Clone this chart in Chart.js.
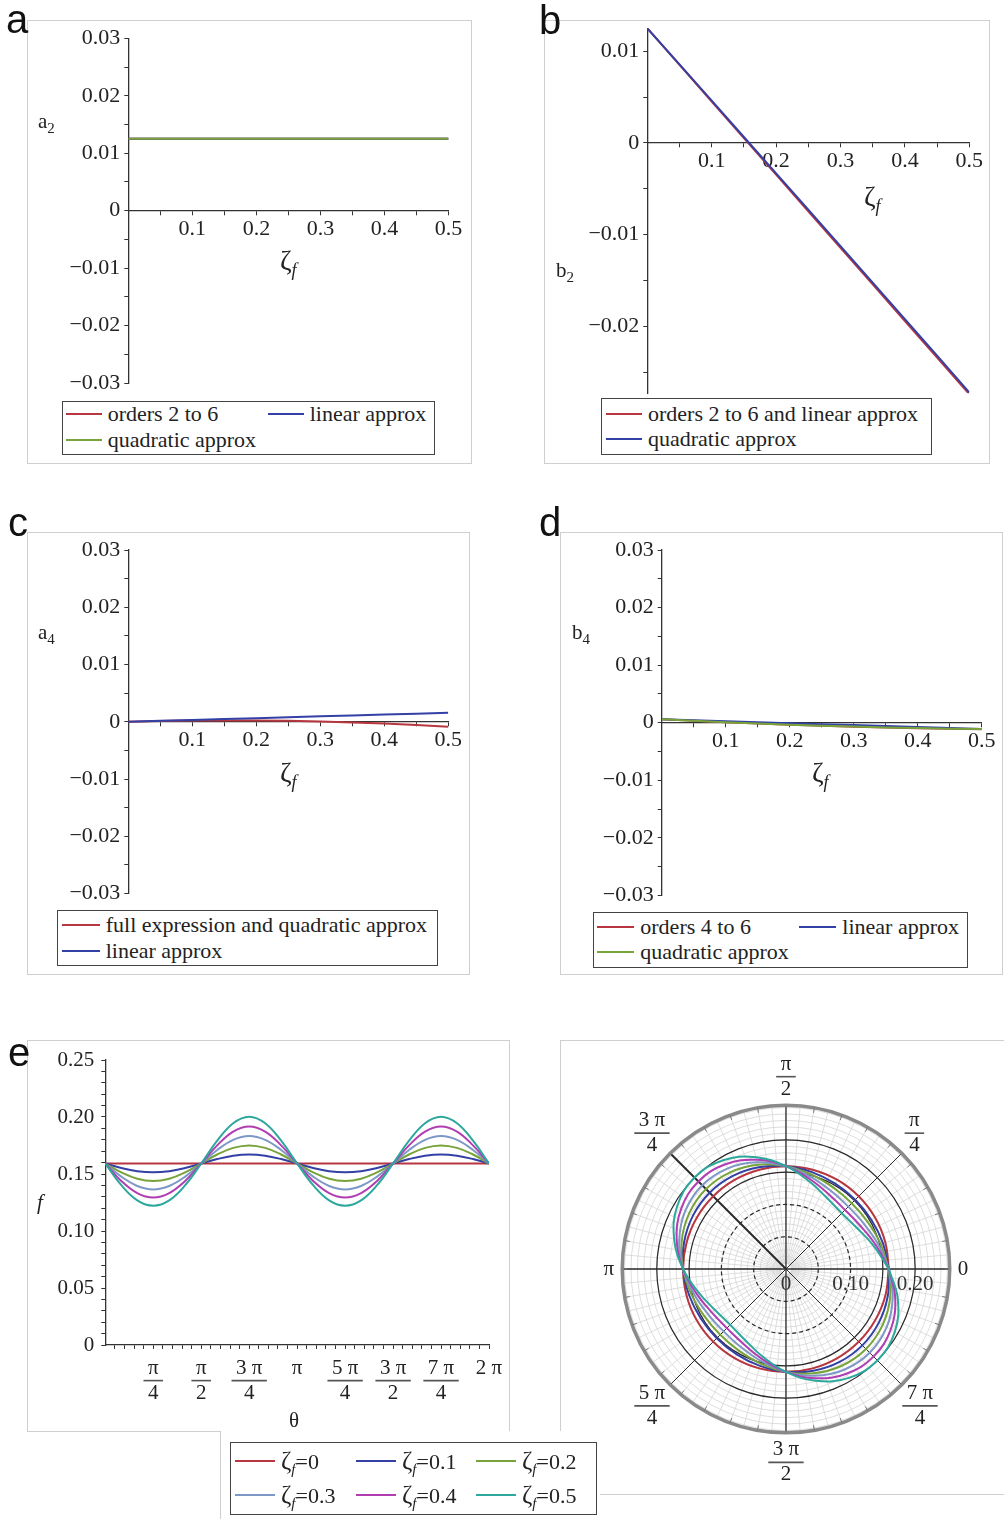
<!DOCTYPE html>
<html>
<head>
<meta charset="utf-8">
<title>Coefficients a2, b2, a4, b4 and f(θ)</title>
<script src="https://cdn.jsdelivr.net/npm/chart.js@4.4.1/dist/chart.umd.min.js"></script>
<style>
  body { margin: 0; width: 1004px; height: 1519px; position: relative; overflow: hidden; background: #fff;
         font-family: "Liberation Serif", "Times New Roman", serif; color: #222; }
  .frame { position: absolute; box-sizing: border-box; border: 1px solid #cfcfcf; background: #fff; }
  canvas.plot { position: absolute; }
  .letter { position: absolute; font-family: "Liberation Sans", Arial, sans-serif; font-size: 40px; line-height: 1; color: #111; }
  .lab { position: absolute; font-size: 21px; line-height: 1; white-space: nowrap; }
  .zl { font-size: 28px; }
  .zl sub { font-size: 18px; vertical-align: -6px; }
  sub { font-size: 15px; line-height: 0; vertical-align: -5px; }
  .legend { position: absolute; box-sizing: border-box; border: 1.5px solid #444; background: #fff; font-size: 22px; }
  .legend .sw { position: absolute; height: 0; border-top: 2px solid; }
  .legend .tx { position: absolute; line-height: 24px; white-space: nowrap; }
  .legend .z { font-size: 25px; }
</style>
</head>
<body>
<!-- panel frames -->
<div class="frame" style="left:27px;top:20px;width:445px;height:444px"></div>
<div class="frame" style="left:544px;top:20px;width:446px;height:444px"></div>
<div class="frame" style="left:27px;top:532px;width:443px;height:443px"></div>
<div class="frame" style="left:560px;top:532px;width:443px;height:443px"></div>
<div class="frame" style="left:27px;top:1040px;width:483px;height:392px"></div>
<div class="frame" style="left:560px;top:1040px;width:444px;height:455px;border-right:none"></div>

<canvas id="chartA" class="plot" width="445" height="444" style="left:27px;top:20px"></canvas>
<canvas id="chartB" class="plot" width="446" height="444" style="left:544px;top:20px"></canvas>
<canvas id="chartC" class="plot" width="443" height="443" style="left:27px;top:532px"></canvas>
<canvas id="chartD" class="plot" width="443" height="443" style="left:560px;top:532px"></canvas>
<canvas id="chartE" class="plot" width="483" height="392" style="left:27px;top:1040px"></canvas>
<canvas id="chartPolar" class="plot" width="444" height="455" style="left:560px;top:1040px"></canvas>

<div class="frame" style="left:220px;top:1431px;width:380px;height:90px;border-top:none;border-bottom:none;border-right:none"></div>

<div class="letter" style="left:6px;top:-1px">a</div>
<div class="letter" style="left:539px;top:0px">b</div>
<div class="letter" style="left:8px;top:502px">c</div>
<div class="letter" style="left:539px;top:502px">d</div>
<div class="letter" style="left:8px;top:1032px">e</div>

<!-- axis titles -->
<div class="lab" style="left:38px;top:111px">a<sub>2</sub></div>
<div class="lab zl" style="left:280px;top:247px">ζ<sub><i>f</i></sub></div>
<div class="lab" style="left:556px;top:260px">b<sub>2</sub></div>
<div class="lab zl" style="left:864px;top:183px">ζ<sub><i>f</i></sub></div>
<div class="lab" style="left:38px;top:622px">a<sub>4</sub></div>
<div class="lab zl" style="left:280px;top:759px">ζ<sub><i>f</i></sub></div>
<div class="lab" style="left:572px;top:622px">b<sub>4</sub></div>
<div class="lab zl" style="left:812px;top:759px">ζ<sub><i>f</i></sub></div>
<div class="lab" style="left:37px;top:1192px"><i>f</i></div>
<div class="lab" style="left:289px;top:1410px">θ</div>

<script>
// ζf sample points for the coefficient panels
const zeta = [0, 0.05, 0.1, 0.15, 0.2, 0.25, 0.3, 0.35, 0.4, 0.45, 0.5];

// a2
const a2Orders    = [0.0125, 0.0125, 0.0125, 0.0125, 0.0125, 0.0125, 0.0125, 0.0125, 0.0125, 0.0125, 0.0125];
const a2Linear    = [0.0125, 0.0125, 0.0125, 0.0125, 0.0125, 0.0125, 0.0125, 0.0125, 0.0125, 0.0125, 0.0125];
const a2Quadratic = [0.0125, 0.0125, 0.0125, 0.0125, 0.0125, 0.0125, 0.0125, 0.0125, 0.0125, 0.0125, 0.0125];

// b2
const b2OrdersLinear = [0.0125, 0.00851, 0.00452, 0.00053, -0.00346, -0.00745, -0.01144, -0.01543, -0.01942, -0.02341, -0.0274];
const b2Quadratic    = [0.0125, 0.00856, 0.00461, 0.00065, -0.00331, -0.00728, -0.01125, -0.01523, -0.01921, -0.0232, -0.0272];

// a4
const a4FullQuadratic = [0, 0.000126, 0.000205, 0.000236, 0.00022, 0.000156, 0.000045, -0.00011, -0.00032, -0.00057, -0.00088];
const a4Linear        = [0, 0.000157, 0.000314, 0.000471, 0.000628, 0.000785, 0.000942, 0.0011, 0.00126, 0.00141, 0.00157];

// b4
const b4Orders    = [0.0006, 0.00032, 0.00007, -0.00016, -0.00036, -0.00054, -0.0007, -0.00084, -0.00096, -0.00106, -0.00114];
const b4Linear    = [0.0006, 0.00043, 0.00026, 0.00009, -0.00008, -0.00025, -0.00042, -0.00059, -0.00076, -0.00093, -0.0011];
const b4Quadratic = [0.0006, 0.00033, 0.00008, -0.00014, -0.00034, -0.00052, -0.00068, -0.00082, -0.00094, -0.00103, -0.0011];

// f(θ) for ζf = 0 ... 0.5, θ in degrees
const thetaDeg = [0, 15, 30, 45, 60, 75, 90, 105, 120, 135, 150, 165, 180, 195, 210, 225, 240, 255, 270, 285, 300, 315, 330, 345, 360];
const fZeta0 = [0.1592, 0.1592, 0.1592, 0.1592, 0.1592, 0.1592, 0.1592, 0.1592, 0.1592, 0.1592, 0.1592, 0.1592, 0.1592, 0.1592, 0.1592, 0.1592, 0.1592, 0.1592, 0.1592, 0.1592, 0.1592, 0.1592, 0.1592, 0.1592, 0.1592];
const fZeta1 = [0.1592, 0.1553, 0.1525, 0.1515, 0.1525, 0.1553, 0.1592, 0.1631, 0.1660, 0.1671, 0.1660, 0.1631, 0.1592, 0.1553, 0.1525, 0.1515, 0.1525, 0.1553, 0.1592, 0.1631, 0.1660, 0.1671, 0.1660, 0.1631, 0.1592];
const fZeta2 = [0.1592, 0.1515, 0.1459, 0.1439, 0.1459, 0.1515, 0.1592, 0.1671, 0.1729, 0.1751, 0.1729, 0.1671, 0.1592, 0.1515, 0.1459, 0.1439, 0.1459, 0.1515, 0.1592, 0.1671, 0.1729, 0.1751, 0.1729, 0.1671, 0.1592];
const fZeta3 = [0.1592, 0.1477, 0.1395, 0.1365, 0.1395, 0.1477, 0.1592, 0.1711, 0.1800, 0.1833, 0.1800, 0.1711, 0.1592, 0.1477, 0.1395, 0.1365, 0.1395, 0.1477, 0.1592, 0.1711, 0.1800, 0.1833, 0.1800, 0.1711, 0.1592];
const fZeta4 = [0.1592, 0.1439, 0.1332, 0.1293, 0.1332, 0.1439, 0.1592, 0.1751, 0.1872, 0.1917, 0.1872, 0.1751, 0.1592, 0.1439, 0.1332, 0.1293, 0.1332, 0.1439, 0.1592, 0.1751, 0.1872, 0.1917, 0.1872, 0.1751, 0.1592];
const fZeta5 = [0.1592, 0.1402, 0.1269, 0.1222, 0.1269, 0.1402, 0.1592, 0.1792, 0.1945, 0.2002, 0.1945, 0.1792, 0.1592, 0.1402, 0.1269, 0.1222, 0.1269, 0.1402, 0.1592, 0.1792, 0.1945, 0.2002, 0.1945, 0.1792, 0.1592];
const zetaLabels = ['0', '0.1', '0.2', '0.3', '0.4', '0.5'];

// tick marks and labels
const zetaMajor = [0.1, 0.2, 0.3, 0.4, 0.5];
const zetaMinor = [0.05, 0.15, 0.25, 0.35, 0.45];
const coefMajor = [-0.03, -0.02, -0.01, 0, 0.01, 0.02, 0.03];
const coefMinor = [-0.025, -0.015, -0.005, 0.005, 0.015, 0.025];
const b2Major = [-0.02, -0.01, 0, 0.01];
const b2Minor = [-0.025, -0.015, -0.005, 0.005];
const fMajor = [0, 0.05, 0.1, 0.15, 0.2, 0.25];
const thetaMajor = [45, 90, 135, 180, 225, 270, 315, 360];
const thetaLabels = [['π', '4'], ['π', '2'], ['3 π', '4'], 'π', ['5 π', '4'], ['3 π', '2'], ['7 π', '4'], '2 π'];

// polar grid
const polarRings = [0.05, 0.10, 0.15, 0.20];
const polarRadialAt = [0, 0.10, 0.20];
const polarRadialLabels = ['0', '0.10', '0.20'];
const polarAngleDeg = [0, 45, 90, 135, 180, 225, 270, 315];
const polarAngleLabels = ['0', ['π', '4'], ['π', '2'], ['3 π', '4'], 'π', ['5 π', '4'], ['3 π', '2'], ['7 π', '4']];
const polarOuter = 0.2535;

const red = '#b8363f', blue = '#3340a6', green = '#78a33a', slate = '#7d97c6', magenta = '#b13db3', teal = '#2da89c';
const axisColor = '#333';
const serif = '"Liberation Serif", "Times New Roman", serif';
const tickFont = {family: serif, size: 22};

function fmt(v) {
    if (v === 0) return '0';
    return (v < 0 ? '−' : '') + Math.abs(v).toFixed(2);
}

// a–d: axes crossing at the origin, x axis sits on y = 0
function coefChart(id, opt) {
    return new Chart(document.getElementById(id), {
        type: 'line',
        data: {
            datasets: opt.series.map(s => ({
                label: s.label,
                data: zeta.map((z, i) => ({x: z, y: s.values[i]})),
                borderColor: s.color,
                borderWidth: 2,
                pointRadius: 0,
                tension: 0,
                order: s.order
            }))
        },
        options: {
            responsive: false,
            animation: false,
            events: [],
            layout: {padding: opt.padding},
            plugins: {legend: {display: false}, tooltip: {enabled: false}},
            scales: {
                x: {
                    type: 'linear', min: 0, max: 0.5,
                    position: {y: 0},
                    afterBuildTicks: s => { s.ticks = zetaMajor.concat(zetaMinor).map(v => ({value: v})); },
                    afterFit: s => { s.height = 0; s.paddingLeft = 0; s.paddingRight = 0; },
                    grid: {drawOnChartArea: false, drawTicks: true, tickLength: 4, tickColor: axisColor},
                    border: {color: axisColor, width: 1.3},
                    ticks: {font: tickFont, color: '#222', padding: 1.5, autoSkip: false, maxRotation: 0,
                        callback: v => zetaMajor.includes(v) ? v.toFixed(1) : ''}
                },
                y: {
                    type: 'linear', min: opt.yMin, max: opt.yMax,
                    afterBuildTicks: s => { s.ticks = opt.yMajor.concat(opt.yMinor).map(v => ({value: v})); },
                    afterFit: s => { s.width = opt.axisLeft; s.paddingTop = 0; s.paddingBottom = 0; },
                    grid: {drawOnChartArea: false, drawTicks: true, tickLength: 4, tickColor: axisColor},
                    border: {color: axisColor, width: 1.3},
                    ticks: {font: tickFont, color: '#222', padding: 4, autoSkip: false,
                        callback: v => opt.yMajor.includes(v) ? fmt(v) : ''}
                }
            }
        }
    });
}

coefChart('chartA', {
    axisLeft: 101.3, padding: {left: 0, top: 18.3, right: 23.5, bottom: 81},
    yMin: -0.03, yMax: 0.03, yMajor: coefMajor, yMinor: coefMinor,
    series: [
        {label: 'orders 2 to 6', values: a2Orders, color: red, order: 3},
        {label: 'linear approx', values: a2Linear, color: blue, order: 2},
        {label: 'quadratic approx', values: a2Quadratic, color: green, order: 1}
    ]
});

coefChart('chartB', {
    axisLeft: 103.3, padding: {left: 0, top: 8.3, right: 20.7, bottom: 70.7},
    yMin: -0.0273, yMax: 0.0125, yMajor: b2Major, yMinor: b2Minor,
    series: [
        {label: 'orders 2 to 6 and linear approx', values: b2OrdersLinear, color: red, order: 2},
        {label: 'quadratic approx', values: b2Quadratic, color: blue, order: 1}
    ]
});

coefChart('chartC', {
    axisLeft: 101.3, padding: {left: 0, top: 18, right: 21.7, bottom: 81.5},
    yMin: -0.03, yMax: 0.03, yMajor: coefMajor, yMinor: coefMinor,
    series: [
        {label: 'full expression and quadratic approx', values: a4FullQuadratic, color: red, order: 2},
        {label: 'linear approx', values: a4Linear, color: blue, order: 1}
    ]
});

coefChart('chartD', {
    axisLeft: 101.7, padding: {left: 0, top: 18, right: 21.3, bottom: 79.6},
    yMin: -0.03, yMax: 0.03, yMajor: coefMajor, yMinor: coefMinor,
    series: [
        {label: 'orders 4 to 6', values: b4Orders, color: red, order: 3},
        {label: 'linear approx', values: b4Linear, color: blue, order: 2},
        {label: 'quadratic approx', values: b4Quadratic, color: green, order: 1}
    ]
});

const fSeries = [fZeta0, fZeta1, fZeta2, fZeta3, fZeta4, fZeta5];
const fColors = [red, blue, green, slate, magenta, teal];

// fraction bars under the π tick labels
const eTickFont = {family: serif, size: 21, lineHeight: 1.2};
const eTickPad = 6.4;
const fractionBars = {
    id: 'fractionBars',
    afterDraw(chart) {
        const s = chart.scales.x, ctx = chart.ctx;
        const y = s.top + 4 + eTickPad + eTickFont.size * eTickFont.lineHeight;
        ctx.save();
        ctx.font = eTickFont.size + 'px ' + serif;
        ctx.strokeStyle = '#555';
        ctx.lineWidth = 1.6;
        thetaMajor.forEach((v, i) => {
            const lab = thetaLabels[i];
            if (!Array.isArray(lab)) return;
            const w = ctx.measureText(lab[0]).width + 9;
            const x = s.getPixelForValue(v);
            ctx.beginPath();
            ctx.moveTo(x - w / 2, y);
            ctx.lineTo(x + w / 2, y);
            ctx.stroke();
        });
        ctx.restore();
    }
};

const thetaMinor = [];
for (let d = 9; d < 360; d += 9) if (d % 45 !== 0) thetaMinor.push(d);
const fMinor = [];
for (let k = 1; k < 25; k++) if (k % 5 !== 0) fMinor.push(k / 100);

new Chart(document.getElementById('chartE'), {
    type: 'line',
    data: {
        datasets: fSeries.map((vals, k) => ({
            label: 'ζf=' + zetaLabels[k],
            data: thetaDeg.map((t, i) => ({x: t, y: vals[i]})),
            borderColor: fColors[k],
            borderWidth: 2,
            pointRadius: 0,
            tension: 0.4,
            order: 6 - k
        }))
    },
    options: {
        responsive: false,
        animation: false,
        events: [],
        layout: {padding: {left: 0, top: 20, right: 21, bottom: 0}},
        plugins: {legend: {display: false}, tooltip: {enabled: false}},
        scales: {
            x: {
                type: 'linear', min: 0, max: 360, position: 'bottom',
                afterBuildTicks: s => { s.ticks = thetaMajor.concat(thetaMinor).map(v => ({value: v})); },
                afterFit: s => { s.height = 87; s.paddingLeft = 0; s.paddingRight = 0; },
                grid: {drawOnChartArea: false, drawTicks: true, tickLength: 4, tickColor: axisColor},
                border: {color: axisColor, width: 1.3},
                ticks: {font: eTickFont, color: '#222', padding: eTickPad, autoSkip: false, maxRotation: 0,
                    callback: v => { const i = thetaMajor.indexOf(v); return i >= 0 ? thetaLabels[i] : ''; }}
            },
            y: {
                type: 'linear', min: 0, max: 0.25,
                afterBuildTicks: s => { s.ticks = fMajor.concat(fMinor).map(v => ({value: v})); },
                afterFit: s => { s.width = 78.3; s.paddingTop = 0; s.paddingBottom = 0; },
                grid: {drawOnChartArea: false, drawTicks: true, tickLength: 4, tickColor: axisColor},
                border: {color: axisColor, width: 1.3},
                ticks: {font: {family: serif, size: 21}, color: '#222', padding: 7, autoSkip: false,
                    callback: v => fMajor.includes(v) ? fmt(v) : ''}
            }
        }
    },
    plugins: [fractionBars]
});

// polar version of the same curves, drawn on equal x/y scales
function drawLabel(ctx, lab, x, y) {
    if (Array.isArray(lab)) {
        const w = Math.max(ctx.measureText(lab[0]).width, ctx.measureText(lab[1]).width) + 9;
        ctx.fillText(lab[0], x, y - 12);
        ctx.fillText(lab[1], x, y + 13);
        ctx.beginPath();
        ctx.moveTo(x - w / 2, y + 0.5);
        ctx.lineTo(x + w / 2, y + 0.5);
        ctx.stroke();
    } else {
        ctx.fillText(lab, x, y);
    }
}

const polarGrid = {
    id: 'polarGrid',
    beforeDatasetsDraw(chart) {
        const ctx = chart.ctx, sx = chart.scales.x, sy = chart.scales.y;
        const cx = sx.getPixelForValue(0), cy = sy.getPixelForValue(0);
        const rad = r => sx.getPixelForValue(r) - cx;
        const pt = (r, deg) => {
            const a = deg * Math.PI / 180;
            return [sx.getPixelForValue(r * Math.cos(a)), sy.getPixelForValue(r * Math.sin(a))];
        };
        const ring = r => { ctx.beginPath(); ctx.arc(cx, cy, rad(r), 0, 2 * Math.PI); ctx.stroke(); };
        const spoke = (r0, r1, deg) => {
            const p0 = pt(r0, deg), p1 = pt(r1, deg);
            ctx.beginPath(); ctx.moveTo(p0[0], p0[1]); ctx.lineTo(p1[0], p1[1]); ctx.stroke();
        };
        ctx.save();
        // light grid
        ctx.strokeStyle = '#d5d5d5';
        ctx.lineWidth = 0.8;
        for (let k = 1; k <= 25; k++) ring(k / 100);
        for (let d = 0; d < 360; d += 5) spoke(0.008, polarOuter, d);
        // dark rings
        ctx.strokeStyle = '#2a2a2a';
        ctx.lineWidth = 1.2;
        polarRings.forEach(r => {
            ctx.setLineDash(r < 0.12 ? [4, 3] : []);
            ring(r);
        });
        ctx.setLineDash([]);
        // dark spokes every π/4
        polarAngleDeg.forEach(d => {
            ctx.lineWidth = d === 135 ? 2 : (d % 90 === 0 ? 1.3 : 1);
            spoke(0, polarOuter, d);
        });
        // outer ring with ticks
        ctx.strokeStyle = '#8a8a8a';
        ctx.lineWidth = 3.5;
        ring(polarOuter);
        ctx.strokeStyle = '#777';
        ctx.lineWidth = 1;
        for (let d = 0; d < 360; d += 10) spoke(polarOuter - 0.008, polarOuter, d);
        ctx.restore();
    },
    afterDraw(chart) {
        const ctx = chart.ctx, sx = chart.scales.x, sy = chart.scales.y;
        const cx = sx.getPixelForValue(0), cy = sy.getPixelForValue(0);
        const R = sx.getPixelForValue(0.266) - cx;
        ctx.save();
        ctx.font = '21px ' + serif;
        ctx.fillStyle = '#222';
        ctx.strokeStyle = '#555';
        ctx.lineWidth = 1.6;
        ctx.textAlign = 'center';
        ctx.textBaseline = 'middle';
        polarAngleDeg.forEach((d, i) => {
            const lab = polarAngleLabels[i];
            const a = d * Math.PI / 180, ux = Math.cos(a), uy = -Math.sin(a);
            const w = Array.isArray(lab) ? ctx.measureText(lab[0]).width + 9 : ctx.measureText(lab).width;
            const h = Array.isArray(lab) ? 42 : 20;
            drawLabel(ctx, lab, cx + R * ux + ux * w / 2, cy + R * uy + uy * h / 2);
        });
        ctx.fillStyle = '#333';
        polarRadialAt.forEach((r, i) => {
            ctx.fillText(polarRadialLabels[i], sx.getPixelForValue(r), cy + 15);
        });
        ctx.restore();
    }
};

new Chart(document.getElementById('chartPolar'), {
    type: 'scatter',
    data: {
        datasets: fSeries.map((vals, k) => ({
            label: 'ζf=' + zetaLabels[k],
            data: vals.map((r, i) => {
                const a = thetaDeg[i] * Math.PI / 180;
                return {x: r * Math.cos(a), y: r * Math.sin(a)};
            }),
            showLine: true,
            borderColor: fColors[k],
            borderWidth: 2,
            pointRadius: 0,
            tension: 0.4,
            order: 6 - k
        }))
    },
    options: {
        responsive: false,
        animation: false,
        events: [],
        layout: {padding: 0},
        plugins: {legend: {display: false}, tooltip: {enabled: false}},
        scales: {
            x: {type: 'linear', min: -0.3498, max: 0.3375, display: false},
            y: {type: 'linear', min: -0.3498, max: 0.3545, display: false}
        }
    },
    plugins: [polarGrid]
});

// boxed legends
function addLegend(box, swatch, items) {
    const el = document.createElement('div');
    el.className = 'legend';
    Object.assign(el.style, {left: box[0] + 'px', top: box[1] + 'px', width: box[2] + 'px', height: box[3] + 'px'});
    items.forEach(it => {
        const sw = document.createElement('div');
        sw.className = 'sw';
        Object.assign(sw.style, {left: it.x + 'px', top: (it.y - 1) + 'px', width: swatch + 'px', borderTopColor: it.color});
        const tx = document.createElement('div');
        tx.className = 'tx';
        tx.innerHTML = it.label;
        Object.assign(tx.style, {left: (it.x + swatch + 6) + 'px', top: (it.y - 12) + 'px'});
        el.append(sw, tx);
    });
    document.body.appendChild(el);
}

addLegend([61.7, 400.7, 373.3, 54.5], 36, [
    {label: 'orders 2 to 6', color: red, x: 3, y: 12},
    {label: 'linear approx', color: blue, x: 205, y: 12},
    {label: 'quadratic approx', color: green, x: 3, y: 38.5}
]);
addLegend([601, 398.3, 330.7, 56.7], 36, [
    {label: 'orders 2 to 6 and linear approx', color: red, x: 4, y: 15},
    {label: 'quadratic approx', color: blue, x: 4, y: 40}
]);
addLegend([56.7, 910, 381.3, 56], 38, [
    {label: 'full expression and quadratic approx', color: red, x: 4, y: 13.5},
    {label: 'linear approx', color: blue, x: 4, y: 40}
]);
addLegend([593.3, 912.3, 375, 56], 37, [
    {label: 'orders 4 to 6', color: red, x: 3, y: 14},
    {label: 'linear approx', color: blue, x: 205, y: 14},
    {label: 'quadratic approx', color: green, x: 3, y: 39}
]);
const zf = v => '<span class="z">ζ</span><sub><i>f</i></sub>=' + v;
addLegend([230, 1441.7, 366.7, 73.3], 40, [
    {label: zf(zetaLabels[0]), color: fColors[0], x: 4, y: 18.5},
    {label: zf(zetaLabels[1]), color: fColors[1], x: 125, y: 18.5},
    {label: zf(zetaLabels[2]), color: fColors[2], x: 245, y: 18.5},
    {label: zf(zetaLabels[3]), color: fColors[3], x: 4, y: 52},
    {label: zf(zetaLabels[4]), color: fColors[4], x: 125, y: 52},
    {label: zf(zetaLabels[5]), color: fColors[5], x: 245, y: 52}
]);
</script>
</body>
</html>
